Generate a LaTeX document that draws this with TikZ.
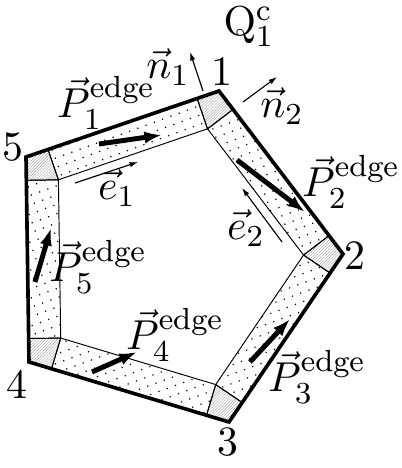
\documentclass[tikz,border=0pt]{standalone}
\usepackage{amsmath, amssymb}
\usetikzlibrary{calc, patterns.meta, arrows.meta}

\tikzset{
    stripbox/.style={draw, line width=0.25pt, pattern={Dots[radius=0.22pt, distance=2.3pt, angle=20]}},
    cornerbox/.style={draw, line width=0.25pt, pattern={Lines[angle=45, distance=0.55pt, line width=0.1pt]}, pattern color=gray!80},
    edgeline/.style={line width=0.95pt},
    thinvec/.style={line width=0.3pt, -{Latex[length=2.2pt, width=1.4pt]}},
    thickvec/.style={line width=1.3pt, -{Latex[length=4.6pt, width=3.2pt]}},
    lbl/.style={inner sep=0pt}
}

\begin{document}
\begin{tikzpicture}[x=0.262pt, y=-0.262pt, font=\fontsize{10.95}{13}\selectfont]
    \useasboundingbox (0,0) rectangle (401,468);
    \def\stripw{8.4pt}

    % Vertices
    \coordinate (v1) at (219,91);
    \coordinate (v2) at (343,254);
    \coordinate (v3) at (229,422);
    \coordinate (v4) at (29,362);
    \coordinate (v5) at (26,157);

    % Inner offset lines
    \foreach \a/\b in {1/2,2/3,3/4,4/5,5/1} {
        \coordinate (s\a) at ($(v\a)!\stripw!-90:(v\b)$);
        \coordinate (e\a) at ($(v\b)!\stripw!90:(v\a)$);
    }
    \foreach \p/\a in {5/1,1/2,2/3,3/4,4/5} {
        \coordinate (w\a) at (intersection cs: first line={(s\p)--(e\p)}, second line={(s\a)--(e\a)});
    }
    \foreach \p/\a/\n in {5/1/2,1/2/3,2/3/4,3/4/5,4/5/1} {
        \coordinate (fp\a) at ($(v\p)!(w\a)!(v\a)$);
        \coordinate (fn\a) at ($(v\a)!(w\a)!(v\n)$);
    }

    % Strips and corners
    \foreach \a/\b in {1/2,2/3,3/4,4/5,5/1}
        \draw[stripbox] (fn\a) -- (fp\b) -- (w\b) -- (w\a) -- cycle;
    \foreach \a in {1,...,5}
        \draw[cornerbox] (v\a) -- (fn\a) -- (w\a) -- (fp\a) -- cycle;

    % Boundary
    \draw[edgeline] (v1) -- (v2) -- (v3) -- (v4) -- (v5) -- cycle;

    % Vectors
    \draw[thinvec] (203,91) -- (190,52);
    \draw[thinvec] (243,102) -- (277,77);
    \draw[thinvec] (75,183) -- (138,162);
    \draw[thinvec] (282,242) -- (242,188);
    \draw[thickvec] (99,144) -- (162,135);
    \draw[thickvec] (237,160) -- (305,212);
    \draw[thickvec] (250,362) -- (290,319);
    \draw[thickvec] (92,372) -- (137,352);
    \draw[thickvec] (35,282) -- (51,228);

    % Labels
    \node[lbl] (q1) at (249,27) {$\mathrm{Q}^{\mathrm{c}}_1$};
    \node[lbl] (n1) at (222,72) {1};
    \node[lbl] (n2) at (355,256) {2};
    \node[lbl] (n3) at (228,442) {3};
    \node[lbl] (n4) at (17,384) {4};
    \node[lbl] (n5) at (13,147) {5};
    \node[lbl] (nv1) at (168,67) {$\vec{n}_1$};
    \node[lbl] (nv2) at (282,106) {$\vec{n}_2$};
    \node[lbl] (ev1) at (117,188) {$\vec{e}_1$};
    \node[lbl] (ev2) at (246,228) {$\vec{e}_2$};
    \node[lbl] (p1) at (106,103) {$\vec{P}_1^{\mathrm{edge}}$};
    \node[lbl] (p2) at (351,182) {$\vec{P}_2^{\mathrm{edge}}$};
    \node[lbl] (p3) at (317,377) {$\vec{P}_3^{\mathrm{edge}}$};
    \node[lbl] (p4) at (175,335) {$\vec{P}_4^{\mathrm{edge}}$};
    \node[lbl] (p5) at (98,267) {$\vec{P}_5^{\mathrm{edge}}$};
\end{tikzpicture}
\end{document}
